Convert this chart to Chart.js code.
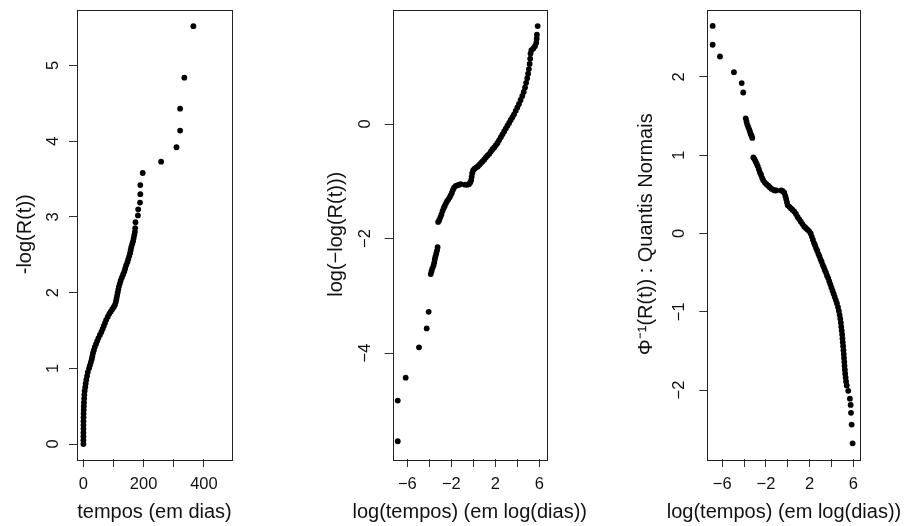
<!DOCTYPE html>
<html>
<head>
<meta charset="utf-8">
<script src="https://cdn.jsdelivr.net/npm/chart.js@4.4.1/dist/chart.umd.min.js"></script>
<style>
  body { margin: 0; background: #fff; width: 906px; height: 526px; position: relative; overflow: hidden; }
  canvas { position: absolute; top: 0; }
</style>
</head>
<body>
<canvas id="c1" width="300" height="526" style="left:0px"></canvas>
<canvas id="c2" width="300" height="526" style="left:300px"></canvas>
<canvas id="c3" width="306" height="526" style="left:600px"></canvas>
<script>
// painel 1: tempos (dias) x -log(R(t))
var tempos = [0.3,0.3,0.4,0.4,0.5,0.5,0.6,0.8,1.0,1.3,1.7,2.2,2.8,3.5,4.5,6.5,8,10,12.5,15,
  19,22,25,28,30,32,35,38,42,46,50,55,60,64,68,72,76,81,86,91,96,101,105,108,110,112,114,116,118,121,
  124,128,132,136,139,142,146,149,152,155,157,159,162,165,167,169,171,172,173,181,
  182,188,189,189,197,258,309,321,321,335,365];
var menosLogR = [0.00,0.05,0.10,0.15,0.20,0.25,0.30,0.35,0.40,0.45,0.50,0.55,0.60,0.65,0.70,0.75,0.80,0.85,0.90,0.95,
  1.00,1.04,1.08,1.12,1.16,1.20,1.24,1.28,1.32,1.36,1.40,1.44,1.48,1.52,1.56,1.60,1.64,1.68,1.72,1.75,
  1.78,1.81,1.84,1.88,1.92,1.96,2.00,2.04,2.08,2.12,2.16,2.20,2.24,2.28,2.32,2.36,2.40,2.44,2.48,2.52,
  2.56,2.60,2.64,2.68,2.72,2.76,2.80,2.85,2.93,3.02,3.10,3.19,3.30,3.42,3.58,3.73,3.92,4.14,4.43,4.84,5.52];

// painel 2: log(tempos) x log(-log(R(t)))
var logTempos2 = [-6.87,-6.87,-6.15,-4.94,-4.24,-4.06,
  -3.87,-3.80,-3.72,-3.62,-3.55,-3.50,-3.44,-3.37,-3.30,-3.25,
  -3.20,-3.10,-3.00,-2.90,-2.80,-2.70,-2.60,-2.50,-2.40,-2.28,-2.15,-2.05,-1.95,-1.85,-1.75,-1.60,-1.45,-1.30,-1.15,
  -0.75,-0.55,-0.40,-0.28,-0.20,-0.15,-0.10,-0.02,0.10,0.25,0.40,0.55,0.70,0.85,1.00,1.15,1.30,1.45,1.60,1.75,
  1.90,2.05,2.20,2.35,2.50,2.65,2.80,2.95,3.10,3.25,3.40,3.55,3.70,3.85,4.00,4.15,4.30,4.45,4.58,4.70,
  4.80,4.90,4.98,5.05,5.12,5.17,5.20,5.28,5.45,5.60,5.72,5.76,5.78,5.85];
var logMenosLogR = [-5.54,-4.83,-4.43,-3.90,-3.57,-3.28,
  -2.62,-2.57,-2.52,-2.47,-2.42,-2.36,-2.31,-2.26,-2.21,-2.15,
  -1.71,-1.68,-1.63,-1.58,-1.52,-1.47,-1.43,-1.39,-1.35,-1.32,-1.28,-1.24,-1.20,-1.15,-1.11,-1.08,-1.07,-1.06,-1.05,
  -1.06,-1.06,-1.05,-1.02,-0.98,-0.92,-0.86,-0.81,-0.78,-0.76,-0.74,-0.71,-0.68,-0.65,-0.62,-0.58,-0.55,-0.52,-0.48,-0.44,
  -0.41,-0.37,-0.33,-0.28,-0.23,-0.18,-0.13,-0.08,-0.03,0.02,0.07,0.12,0.17,0.23,0.29,0.35,0.42,0.49,0.56,0.64,
  0.72,0.80,0.88,0.96,1.05,1.14,1.23,1.29,1.32,1.36,1.42,1.49,1.56,1.71];

// painel 3: log(tempos) x quantis normais
var logTempos3 = [-6.88,-6.88,-6.21,-4.93,-4.22,-4.08,
  -3.85,-3.78,-3.71,-3.62,-3.53,-3.46,-3.40,-3.32,-3.25,
  -3.15,-3.05,-2.95,-2.85,-2.75,-2.65,-2.55,-2.45,-2.35,-2.25,-2.10,-1.95,-1.80,-1.65,-1.50,-1.35,-1.20,-1.05,
  -0.60,-0.45,-0.32,-0.22,-0.15,-0.08,0.00,0.15,0.30,0.45,0.60,0.75,0.90,1.05,1.20,1.35,1.50,1.65,1.80,1.95,
  2.10,2.20,2.30,2.40,2.50,2.60,2.70,2.80,2.90,3.00,3.10,3.20,3.30,3.40,3.50,3.60,3.70,3.80,3.90,4.00,
  4.10,4.20,4.30,4.40,4.50,4.60,4.68,4.75,4.81,4.86,4.90,4.94,4.98,5.01,5.04,5.07,5.10,5.13,5.15,5.18,
  5.20,5.23,5.26,5.30,5.34,5.40,
  5.54,5.69,5.76,5.79,5.85,5.94];
var quantis = [2.65,2.41,2.26,2.06,1.92,1.80,
  1.47,1.43,1.39,1.36,1.33,1.30,1.27,1.25,1.22,
  0.97,0.95,0.92,0.89,0.86,0.82,0.78,0.75,0.71,0.68,0.65,0.63,0.61,0.59,0.57,0.56,0.55,0.55,
  0.55,0.54,0.52,0.48,0.44,0.40,0.36,0.34,0.32,0.30,0.28,0.25,0.21,0.18,0.15,0.12,0.09,0.07,0.05,0.03,
  0.00,-0.04,-0.08,-0.12,-0.15,-0.19,-0.22,-0.26,-0.29,-0.33,-0.36,-0.40,-0.43,-0.47,-0.50,-0.54,-0.57,-0.61,-0.65,-0.69,
  -0.73,-0.77,-0.81,-0.85,-0.89,-0.94,-0.99,-1.04,-1.09,-1.14,-1.19,-1.24,-1.29,-1.34,-1.39,-1.44,-1.49,-1.54,-1.59,-1.64,
  -1.69,-1.74,-1.79,-1.84,-1.89,-1.94,
  -2.01,-2.11,-2.19,-2.29,-2.44,-2.68];

// ticks
var xTicks1 = [0, 100, 200, 300, 400];
var xLabels1 = ['0', '', '200', '', '400'];
var yTicks1 = [0, 1, 2, 3, 4, 5];
var yLabels1 = ['0', '1', '2', '3', '4', '5'];
var xTicksLog = [-6, -4, -2, 0, 2, 4, 6];
var xLabelsLog = ['\u22126', '', '\u22122', '', '2', '', '6'];
var yTicks2 = [-4, -2, 0];
var yLabels2 = ['\u22124', '\u22122', '0'];
var yTicks3 = [-2, -1, 0, 1, 2];
var yLabels3 = ['\u22122', '\u22121', '0', '1', '2'];

var FONT = "'Liberation Sans', Arial, Helvetica, sans-serif";

var boxPlugin = {
  id: 'box',
  afterDraw: function (chart) {
    var a = chart.chartArea, ctx = chart.ctx;
    ctx.save();
    ctx.strokeStyle = '#222';
    ctx.lineWidth = 1;
    ctx.strokeRect(Math.round(a.left) + 0.5, Math.round(a.top) + 0.5,
      Math.round(a.right - a.left), Math.round(a.bottom - a.top));
    // x title (drawn here so it is not squeezed to the plot width)
    ctx.fillStyle = '#111';
    ctx.font = '20px ' + FONT;
    ctx.textAlign = 'center';
    ctx.textBaseline = 'middle';
    ctx.fillText(chart.options.plugins.box.xTitle, (a.left + a.right) / 2, chart.height - 14);
    ctx.restore();
  }
};

function panel(id, xs, ys, o) {
  var pts = xs.map(function (x, i) { return { x: x, y: ys[i] }; });
  new Chart(document.getElementById(id), {
    type: 'scatter',
    data: {
      datasets: [{
        data: pts,
        backgroundColor: '#000',
        borderWidth: 0,
        pointRadius: 2.9,
        pointHoverRadius: 2.9
      }]
    },
    options: {
      responsive: false,
      animation: false,
      events: [],
      layout: { padding: { top: 9.5, right: o.padRight, bottom: 0, left: 0 } },
      plugins: {
        legend: { display: false },
        tooltip: { enabled: false },
        box: { xTitle: o.xTitle }
      },
      scales: {
        x: {
          type: 'linear',
          position: 'bottom',
          min: o.xMin,
          max: o.xMax,
          afterBuildTicks: function (s) { s.ticks = o.xTicks.map(function (v) { return { value: v }; }); },
          afterFit: function (s) { s.height = 67; s.paddingLeft = 0; s.paddingRight = 0; },
          grid: { drawOnChartArea: false, drawTicks: true, tickLength: 8, color: '#333', lineWidth: 1 },
          border: { display: false },
          ticks: {
            autoSkip: false, maxRotation: 0, padding: 8,
            color: '#111', font: { family: FONT, size: 16.5 },
            callback: function (v, i) { return o.xLabels[i]; }
          }
        },
        y: {
          type: 'linear',
          position: 'left',
          min: o.yMin,
          max: o.yMax,
          afterBuildTicks: function (s) { s.ticks = o.yTicks.map(function (v) { return { value: v }; }); },
          afterFit: function (s) { s.width = o.yWidth; s.paddingTop = 0; s.paddingBottom = 0; },
          grid: { drawOnChartArea: false, drawTicks: true, tickLength: 8, color: '#333', lineWidth: 1 },
          border: { display: false },
          ticks: {
            autoSkip: false, minRotation: 90, maxRotation: 90, crossAlign: 'center', padding: o.yPad,
            color: '#111', font: { family: FONT, size: 16.5 },
            callback: function (v, i) { return o.yLabels[i]; }
          },
          title: {
            display: true, text: o.yTitle, color: '#111',
            font: { family: FONT, size: 20 },
            padding: { top: o.yTitlePad, bottom: 0 }
          }
        }
      }
    },
    plugins: [boxPlugin]
  });
}

panel('c1', tempos, menosLogR, {
  xMin: -20.9, xMax: 493, yMin: -0.198, yMax: 5.74,
  xTicks: xTicks1, xLabels: xLabels1, yTicks: yTicks1, yLabels: yLabels1,
  yWidth: 77, padRight: 68, yPad: 11, yTitlePad: 13,
  xTitle: 'tempos (em dias)', yTitle: '-log(R(t))'
});

panel('c2', logTempos2, logMenosLogR, {
  xMin: -7.33, xMax: 6.67, yMin: -5.85, yMax: 2.0,
  xTicks: xTicksLog, xLabels: xLabelsLog, yTicks: yTicks2, yLabels: yLabels2,
  yWidth: 92.7, padRight: 53.3, yPad: 10, yTitlePad: 24.7,
  xTitle: 'log(tempos) (em log(dias))', yTitle: 'log(\u2212log(R(t)))'
});

panel('c3', logTempos3, quantis, {
  xMin: -7.37, xMax: 6.68, yMin: -2.88, yMax: 2.86,
  xTicks: xTicksLog, xLabels: xLabelsLog, yTicks: yTicks3, yLabels: yLabels3,
  yWidth: 107.3, padRight: 45.3, yPad: 10, yTitlePad: 34.7,
  xTitle: 'log(tempos) (em log(dias))', yTitle: '\u03A6\u207B\u00B9(R(t)) : Quantis Normais'
});
</script>
</body>
</html>
